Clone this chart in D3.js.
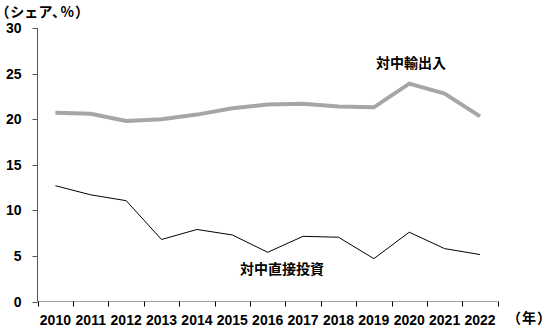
<!DOCTYPE html>
<html>
<head>
<meta charset="utf-8">
<script src="https://cdn.jsdelivr.net/npm/d3@7"></script>
<style>
    body { margin: 0; background: #fff; }
    text { font-family: "Liberation Sans", Arial, sans-serif; }
    .jp { font-family: "Noto Sans CJK JP", sans-serif; }
    .palt { font-feature-settings: "palt"; letter-spacing: 1.5px; }
</style>
</head>
<body>
<div id="graph"></div>
<script>
var years = ['2010', '2011', '2012', '2013', '2014', '2015', '2016', '2017', '2018', '2019', '2020', '2021', '2022'];
var tradeShare = [20.7, 20.6, 19.8, 20.0, 20.5, 21.2, 21.6, 21.7, 21.4, 21.3, 23.9, 22.8, 20.3];
var fdiShare = [12.7, 11.7, 11.06, 6.8, 7.9, 7.3, 5.4, 7.15, 7.05, 4.7, 7.6, 5.8, 5.15];
var yTicks = [0, 5, 10, 15, 20, 25, 30];

var width = 548,
    height = 329;

var svg = d3.select('#graph')
    .append('svg')
        .attr('width', width)
        .attr('height', height);

var x = d3.scaleBand()
    .domain(years)
    .range([37.7, 497.7]);

var y = d3.scaleLinear()
    .domain([0, 30])
    .range([301.5, 28]);

// axes
var xAxis = svg.append('g')
    .attr('transform', 'translate(0,' + 301.5 + ')');
xAxis.append('line')
    .attr('x1', x.range()[0]).attr('x2', x.range()[1])
    .attr('stroke', '#a0a0a0');
xAxis.selectAll('.tick')
    .data(years.concat(['end']))
    .enter().append('line')
    .attr('x1', function(d, i) { return Math.round(x.range()[0] + i * x.step()) + 0.5; })
    .attr('x2', function(d, i) { return Math.round(x.range()[0] + i * x.step()) + 0.5; })
    .attr('y1', 0).attr('y2', 5)
    .attr('stroke', '#000');
xAxis.selectAll('.lbl')
    .data(years)
    .enter().append('text')
    .attr('x', function(d) { return x(d) + x.bandwidth() / 2; })
    .attr('y', 23)
    .attr('text-anchor', 'middle')
    .style('font-size', '14px')
    .style('font-weight', 'bold')
    .text(function(d) { return d; });

var yAxis = svg.append('g')
    .attr('transform', 'translate(37.5,0)');
yAxis.append('line')
    .attr('y1', y(30)).attr('y2', y(0))
    .attr('stroke', '#555');
yAxis.selectAll('.tick')
    .data(yTicks)
    .enter().append('line')
    .attr('x1', -5).attr('x2', 0)
    .attr('y1', function(d) { return Math.round(y(d)) + 0.5; })
    .attr('y2', function(d) { return Math.round(y(d)) + 0.5; })
    .attr('stroke', '#555');
yAxis.selectAll('.lbl')
    .data(yTicks)
    .enter().append('text')
    .attr('x', -16)
    .attr('y', function(d) { return y(d) + 5; })
    .attr('text-anchor', 'end')
    .style('font-size', '14px')
    .style('font-weight', 'bold')
    .text(function(d) { return d; });

// lines
var line = function(vals) {
    return d3.line()
        .x(function(d, i) { return x(years[i]) + x.bandwidth() / 2; })
        .y(function(d) { return y(d); })(vals);
};

svg.append('path')
    .attr('d', line(tradeShare))
    .attr('fill', 'none')
    .attr('stroke', '#a6a6a6')
    .attr('stroke-width', 4);

svg.append('path')
    .attr('d', line(fdiShare))
    .attr('fill', 'none')
    .attr('stroke', '#000')
    .attr('stroke-width', 1);

// labels
svg.append('text')
    .attr('class', 'jp')
    .attr('x', 411).attr('y', 68)
    .attr('text-anchor', 'middle')
    .style('font-size', '14px')
    .style('font-weight', 'bold')
    .text('対中輸出入');

svg.append('text')
    .attr('class', 'jp')
    .attr('x', 282).attr('y', 274)
    .attr('text-anchor', 'middle')
    .style('font-size', '14px')
    .style('font-weight', 'bold')
    .text('対中直接投資');

svg.append('text')
    .attr('class', 'jp palt')
    .attr('x', 2).attr('y', 17)
    .style('font-size', '14px')
    .style('font-weight', 'bold')
    .text('（シェア、%）');

svg.append('text')
    .attr('class', 'jp palt')
    .attr('x', 546).attr('y', 323)
    .attr('text-anchor', 'end')
    .style('font-size', '14px')
    .style('font-weight', 'bold')
    .text('（年）');
</script>
</body>
</html>
